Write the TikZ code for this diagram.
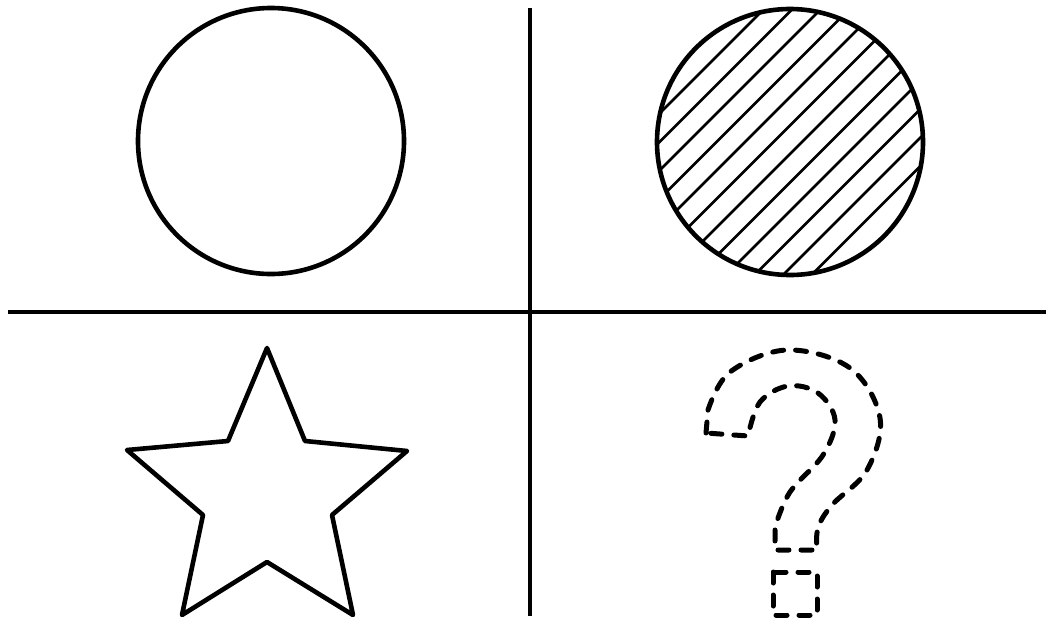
\documentclass[tikz,border=0pt]{standalone}
\begin{document}
\begin{tikzpicture}[x=1pt,y=-1pt,
  shapeline/.style={line width=4.6pt,line join=round},
  divider/.style={line width=4pt},
  hatchline/.style={line width=2.8pt},
  qline/.style={line width=5pt,line cap=round,line join=round,dash pattern=on 11pt off 12pt}]
\useasboundingbox[fill=white] (0,0) rectangle (1046,621);
% dividers
\coordinate (vt) at (530,8);
\coordinate (vb) at (530,616);
\coordinate (hl) at (8,312);
\coordinate (hr) at (1046,312);
\draw[divider] (vt) -- (vb);
\draw[divider] (hl) -- (hr);
% plain circle
\draw[shapeline] (271,141) circle[radius=133];
% hatched circle
\begin{scope}
  \clip (790,142) circle[radius=133];
  \foreach \c in {0,...,11}{
    \pgfmathsetmacro{\cc}{773+28.5*\c}
    \draw[hatchline] (\cc-300,300) -- (\cc+300,-300);
  }
\end{scope}
\draw[shapeline] (790,142) circle[radius=133];
% star
\draw[shapeline] (267,348) -- (305,441) -- (407,451) -- (332,515) -- (353,615)
  -- (267,562) -- (182,615) -- (203,515) -- (127,450) -- (228,441) -- cycle;
% question mark
\draw[qline] (706,433) -- plot[smooth,tension=0.6] coordinates {(708,410) (730,372) (787,350) (850,368) (880,418) (867,470) (832,505) (818,528) (817,550)}
  -- (775,550) -- plot[smooth,tension=0.6] coordinates {(775,527) (790,492) (823,455) (835,420) (818,393) (788,386) (760,402) (748,436)} -- cycle;
\draw[qline] (773,572) rectangle (817,615);
\end{tikzpicture}
\end{document}
